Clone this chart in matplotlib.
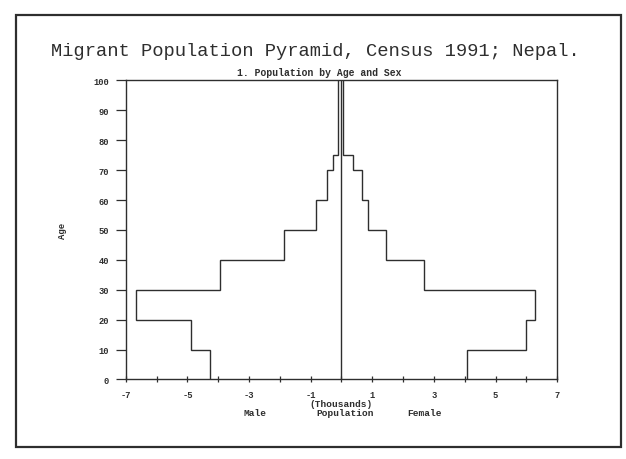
import matplotlib
matplotlib.use('Agg')
import matplotlib.pyplot as plt
from matplotlib.patches import Rectangle

# DATA (thousands of migrants by age group)
age_edges = [0, 10, 20, 30, 40, 50, 60, 70, 75, 100]
male = [-4.26, -4.89, -6.67, -3.93, -1.88, -0.83, -0.47, -0.29, -0.10]
female = [4.08, 6.00, 6.27, 2.68, 1.45, 0.85, 0.66, 0.36, 0.06]
x_ticks = list(range(-7, 8))
x_labels = ['%d' % v if v % 2 else '' for v in x_ticks]
y_ticks = list(range(0, 101, 10))

title = 'Migrant Population Pyramid, Census 1991; Nepal.'
subtitle = '1. Population by Age and Sex'

INK = '#2e2e2e'
plt.rcParams['font.family'] = ['Liberation Mono', 'DejaVu Sans Mono']

fig = plt.figure(figsize=(6.26, 4.6), dpi=100)
fig.patch.set_facecolor('white')

# page frame
fig.patches.append(Rectangle((0.026, 0.026), 0.966, 0.939,
                             transform=fig.transFigure, fill=False,
                             edgecolor=INK, lw=1.6))

fig.text(0.503, 0.887, title, ha='center', va='center',
         fontsize=13.5, color=INK)
fig.text(0.51, 0.841, subtitle, ha='center', va='center',
         fontsize=7, fontweight='bold', color=INK)

ax = fig.add_axes([0.201, 0.173, 0.689, 0.650])
ax.stairs(male, age_edges, orientation='horizontal', baseline=None,
          color=INK, lw=1.0)
ax.stairs(female, age_edges, orientation='horizontal', baseline=None,
          color=INK, lw=1.0)
ax.plot([0, 0], [age_edges[0], age_edges[-1]], color=INK, lw=1.0)

ax.set_xlim(-7, 7)
ax.set_ylim(0, 100)
ax.set_xticks(x_ticks)
ax.set_xticklabels(x_labels)
ax.set_yticks(y_ticks)
for s in ax.spines.values():
    s.set_color(INK)
    s.set_linewidth(1.0)
ax.tick_params(axis='x', direction='inout', length=5, width=0.9,
               pad=5, labelsize=6.3, colors=INK)
ax.tick_params(axis='y', direction='out', length=7, width=0.9,
               pad=5, labelsize=6.3, colors=INK)
for lab in ax.get_xticklabels() + ax.get_yticklabels():
    lab.set_fontweight('bold')

ax.set_ylabel('Age', fontsize=6.5, fontweight='bold', color=INK, labelpad=19)

small = dict(fontsize=6.8, fontweight='bold', color=INK, ha='center', va='center',
             transform=ax.get_xaxis_transform())
ax.text(0.0, -0.082, '(Thousands)', **small)
ax.text(0.13, -0.112, 'Population', **small)
ax.text(-2.8, -0.112, 'Male', **small)
ax.text(2.7, -0.112, 'Female', **small)

fig.savefig('out.png', dpi=100, facecolor='white')
